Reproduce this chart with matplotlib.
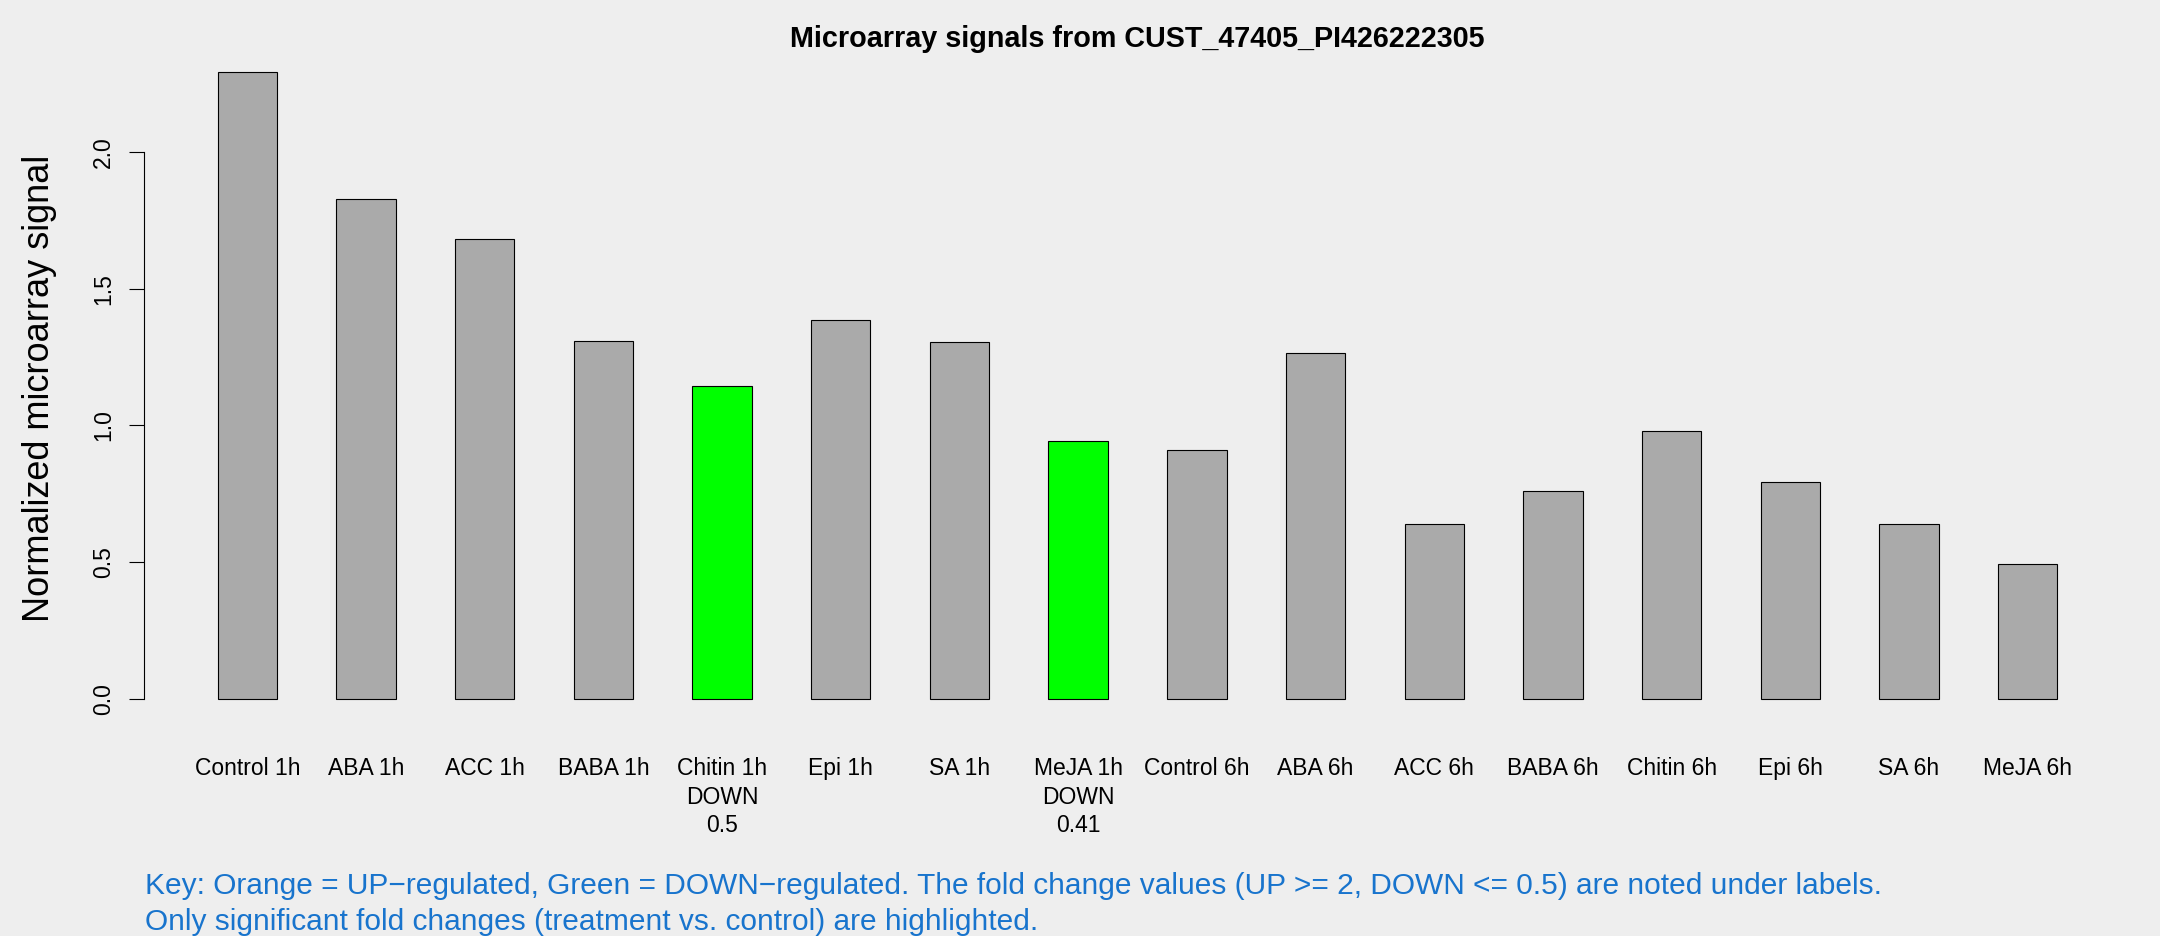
import matplotlib
matplotlib.use("Agg")
import matplotlib.pyplot as plt
import numpy as np

plt.rcParams['font.family'] = ['Liberation Sans', 'DejaVu Sans']

samples = ["Control 1h", "ABA 1h", "ACC 1h", "BABA 1h", "Chitin 1h", "Epi 1h",
           "SA 1h", "MeJA 1h", "Control 6h", "ABA 6h", "ACC 6h", "BABA 6h",
           "Chitin 6h", "Epi 6h", "SA 6h", "MeJA 6h"]
signal = [2.294, 1.827, 1.681, 1.310, 1.146, 1.386, 1.306, 0.944,
          0.912, 1.264, 0.641, 0.762, 0.979, 0.795, 0.641, 0.493]
regulation = ["", "", "", "", "DOWN", "", "", "DOWN",
              "", "", "", "", "", "", "", ""]
fold_change = ["", "", "", "", "0.5", "", "", "0.41",
               "", "", "", "", "", "", "", ""]

bg = "#EEEEEE"
colors = []
for r in regulation:
    if r == "DOWN":
        colors.append("#00FF00")
    elif r == "UP":
        colors.append("orange")
    else:
        colors.append("#AAAAAA")

labels = []
for s, r, f in zip(samples, regulation, fold_change):
    if r:
        labels.append(s + "\n" + r + "\n" + f)
    else:
        labels.append(s)

fig = plt.figure(figsize=(21.6, 9.36), dpi=100, facecolor=bg)
ax = fig.add_axes([144 / 2160, 1 - 724 / 936, 1987 / 2160, 677.5 / 936])
ax.set_facecolor(bg)

# R barplot style: width 1, space 1
x = np.arange(len(samples)) * 2 + 1.5
ax.bar(x, signal, width=1, color=colors, edgecolor="black", linewidth=0.8)

top = max(signal)
ax.set_xlim(1 - 0.04 * 31, 32 + 0.04 * 31)
ax.set_ylim(-0.04 * top, 1.04 * top)

for sp in ["top", "right", "bottom"]:
    ax.spines[sp].set_visible(False)
ax.spines["left"].set_bounds(0, 2.0)
ax.spines["left"].set_linewidth(0.8)

ax.set_yticks([0.0, 0.5, 1.0, 1.5, 2.0])
ax.set_yticklabels(["0.0", "0.5", "1.0", "1.5", "2.0"], rotation=90, va="center")
ax.tick_params(axis="y", length=10.8, width=0.8, pad=10, labelsize=16.5)

ax.set_xticks(x)
ax.set_xticklabels(labels, linespacing=1.31)
ax.tick_params(axis="x", length=0, pad=24, labelsize=16.5)

# title centred over the plot region
fig.text((144 + 1987 / 2) / 2160, 1 - 47 / 936,
         "Microarray signals from CUST_47405_PI426222305",
         ha="center", va="baseline", fontsize=20.7, fontweight="bold")

fig.text(40 / 2160, 1 - 388 / 936, "Normalized microarray signal",
         rotation=90, ha="center", va="center", fontsize=26)

fig.text(145 / 2160, 1 - 894 / 936,
         "Key: Orange = UP\u2212regulated, Green = DOWN\u2212regulated. The fold change values (UP >= 2, DOWN <= 0.5) are noted under labels.",
         ha="left", va="baseline", fontsize=21.5, color="#1874CD")
fig.text(145 / 2160, 1 - 930 / 936,
         "Only significant fold changes (treatment vs. control) are highlighted.",
         ha="left", va="baseline", fontsize=21.5, color="#1874CD")

fig.savefig("out.png", dpi=100, facecolor=bg)
